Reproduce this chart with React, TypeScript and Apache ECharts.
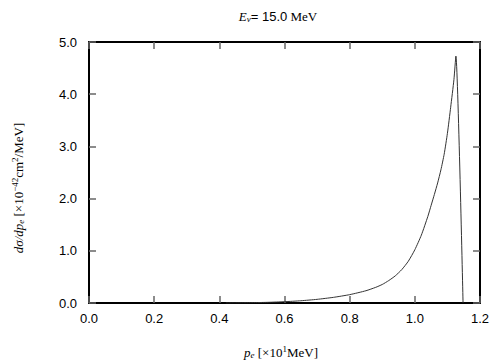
import React, { useEffect, useRef } from "react";
import * as echarts from "echarts";

const pe = [0.42, 0.45, 0.5, 0.55, 0.6, 0.65, 0.7, 0.75, 0.8, 0.85, 0.88, 0.9, 0.92, 0.94, 0.96, 0.98, 1.0, 1.02, 1.04, 1.05, 1.06, 1.07, 1.08, 1.09, 1.1, 1.11, 1.12, 1.126, 1.148];
const sigma = [0, 0.002, 0.006, 0.013, 0.025, 0.043, 0.07, 0.108, 0.16, 0.235, 0.3, 0.355, 0.43, 0.52, 0.64, 0.8, 1.02, 1.3, 1.66, 1.87, 2.08, 2.3, 2.55, 2.85, 3.25, 3.75, 4.28, 4.73, 0];

const SANS = "'Liberation Sans', Arial, sans-serif";
const SERIF = "'Liberation Serif', 'Times New Roman', serif";

export default function App() {
  const ref = useRef<HTMLDivElement>(null);
  useEffect(() => {
    if (!ref.current) return;
    const chart = echarts.init(ref.current, null, { renderer: "svg" });
    const data = pe.map((x, i) => [x, sigma[i]]);
    const tick = () => ({ show: true, inside: true, length: 7, lineStyle: { color: "#666", width: 1.5 } });
    const line = () => ({ show: true, onZero: false, lineStyle: { color: "#000", width: 2 } });
    chart.setOption({
      animation: false,
      backgroundColor: "#fff",
      grid: { left: 89, right: 24, top: 42, bottom: 57, show: false },
      xAxis: [
        {
          type: "value", min: 0, max: 1.2, interval: 0.2, position: "bottom",
          axisLine: line(), axisTick: tick(), splitLine: { show: false },
          axisLabel: { show: true, fontFamily: SANS, fontSize: 13, color: "#000", margin: 9, formatter: (v: number) => v.toFixed(1) },
        },
        {
          type: "value", min: 0, max: 1.2, interval: 0.2, position: "top",
          axisLine: line(), axisTick: tick(), splitLine: { show: false }, axisLabel: { show: false },
        },
      ],
      yAxis: [
        {
          type: "value", min: 0, max: 5, interval: 1, position: "left",
          axisLine: line(), axisTick: tick(), splitLine: { show: false },
          axisLabel: { show: true, fontFamily: SANS, fontSize: 13, color: "#000", margin: 12, formatter: (v: number) => v.toFixed(1) },
        },
        {
          type: "value", min: 0, max: 5, interval: 1, position: "right",
          axisLine: line(), axisTick: tick(), splitLine: { show: false }, axisLabel: { show: false },
        },
      ],
      series: [
        {
          type: "line", data, xAxisIndex: 0, yAxisIndex: 0, showSymbol: false, smooth: 0.2,
          lineStyle: { color: "#333", width: 1 },
        },
      ],
      graphic: [
        {
          type: "text", x: 278, y: 16,
          style: {
            text: "{i|E}{s|ν}{n|= 15.0}{r| MeV}",
            align: "center", verticalAlign: "middle",
            rich: {
              i: { fontFamily: SERIF, fontStyle: "italic", fontSize: 13, fill: "#000" },
              s: { fontFamily: SERIF, fontStyle: "italic", fontSize: 9, fill: "#000", verticalAlign: "bottom", padding: [6, 0, 0, 0] },
              n: { fontFamily: SANS, fontSize: 13, fill: "#000" },
              r: { fontFamily: SERIF, fontSize: 13, fill: "#000" },
            },
          },
        },
        {
          type: "text", x: 281, y: 352,
          style: {
            text: "{i|p}{s|e}{n| [×10}{p|1}{n|MeV]}",
            align: "center", verticalAlign: "middle",
            rich: {
              i: { fontFamily: SERIF, fontStyle: "italic", fontSize: 13, fill: "#000" },
              s: { fontFamily: SERIF, fontStyle: "italic", fontSize: 9, fill: "#000", padding: [6, 0, 0, 0] },
              n: { fontFamily: SERIF, fontSize: 13, fill: "#000" },
              p: { fontFamily: SERIF, fontSize: 9, fill: "#000", padding: [0, 0, 7, 0] },
            },
          },
        },
        {
          type: "text", x: 18, y: 188, rotation: Math.PI / 2,
          style: {
            text: "{i|dσ/dp}{s|e}{n| [×10}{p|−42}{n|cm}{p|2}{n|/MeV]}",
            align: "center", verticalAlign: "middle",
            rich: {
              i: { fontFamily: SERIF, fontStyle: "italic", fontSize: 13, fill: "#000" },
              s: { fontFamily: SERIF, fontStyle: "italic", fontSize: 9, fill: "#000", padding: [6, 0, 0, 0] },
              n: { fontFamily: SERIF, fontSize: 13, fill: "#000" },
              p: { fontFamily: SERIF, fontSize: 9, fill: "#000", padding: [0, 0, 7, 0] },
            },
          },
        },
      ],
    });
    return () => chart.dispose();
  }, []);
  return <div ref={ref} style={{ width: 504, height: 360, position: "absolute", left: 0, top: 0 }} />;
}
